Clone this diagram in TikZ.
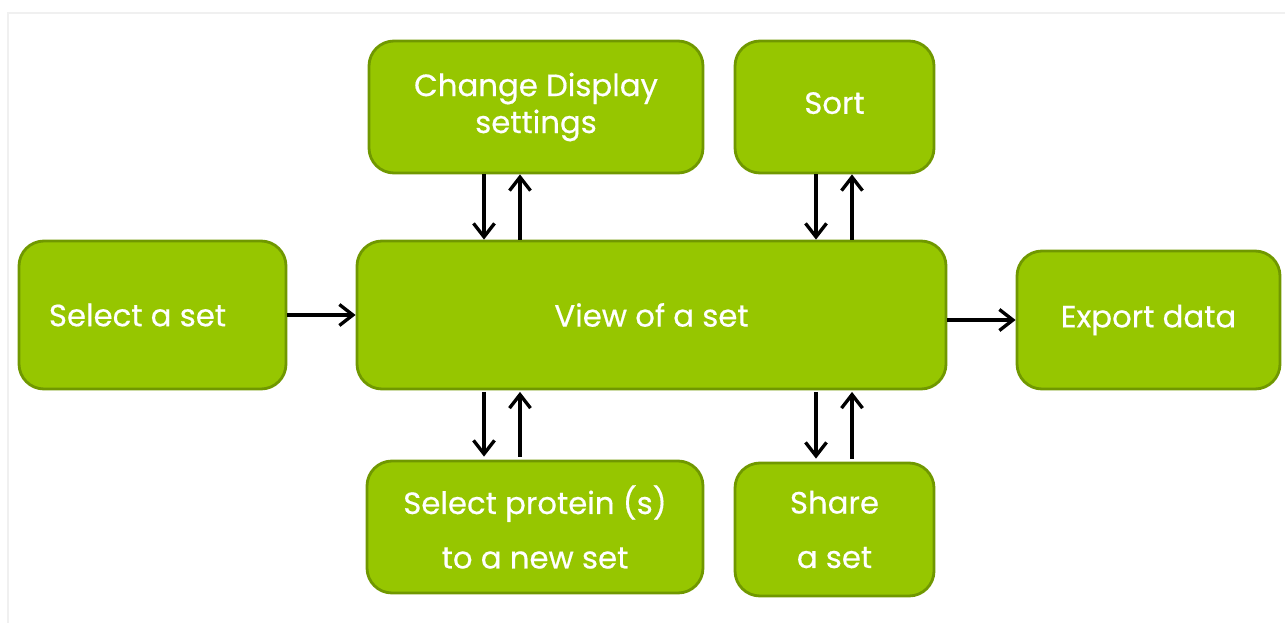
\documentclass[tikz,border=0pt]{standalone}
\usepackage{fontspec}
\setmainfont{Poppins}[FakeBold=0.5]
\usetikzlibrary{arrows.meta}
\definecolor{boxgreen}{RGB}{150,198,0}
\definecolor{boxedge}{RGB}{112,152,0}

\begin{document}
\begin{tikzpicture}
  
  \tikzset{main node/.style={rectangle, draw=boxedge, fill=boxgreen, line width=1.6pt,
  		text=white, align=center, rounded corners=0.5cm,
  		font=\fontsize{17.5}{21}\selectfont}, }
  \tikzset{linea/.style={-{Straight Barb[length=0.27cm, width=0.42cm]}, line width=1.9pt}, }
  \useasboundingbox (0,0) rectangle (25.7,12.46);
  \draw[black!6, line width=1pt] (0.16,0) |- (25.7,12.2);
    \node[main node, minimum width=5.34cm, minimum height=2.96cm] (1) at (3.05,6.16) {Select a set\hspace*{0.6cm}};
    \node[main node, minimum width=11.78cm, minimum height=2.96cm] (2) at (13.03,6.16) {View of a set};
    \node[main node, minimum width=6.68cm, minimum height=2.64cm] (3) at (10.72,10.32) {Change Display\\settings};
    \node[main node, minimum width=3.98cm, minimum height=2.64cm] (4) at (16.69,10.32) {\raisebox{0.16cm}{Sort}};
    \node[main node, minimum width=6.72cm, minimum height=2.64cm] (5) at (10.70,1.92) {Select protein (s)\\[10pt]to a new set};
    \node[main node, minimum width=3.98cm, minimum height=2.66cm] (6) at (16.69,1.87) {Share\\[10pt]a set};
    \node[main node, minimum width=5.26cm, minimum height=2.76cm] (7) at (22.97,6.06) {Export data};

\path[linea] (1) edge (2);
\path[linea] (2.east |- 7) edge (7);
\foreach \a/\s in {3/-1.04cm,4/-0.37cm}
  \draw[linea] ([xshift=\s]\a.south) -- ([xshift=\s]\a.south |- 2.north);
\foreach \a/\s in {3/-0.32cm,4/0.35cm}
  \draw[linea] ([xshift=\s]\a.south |- 2.north) -- ([xshift=\s]\a.south);
\foreach \a/\s in {5/-1.02cm,6/-0.37cm}
  \draw[linea, shorten <=0.03cm, shorten >=0.06cm] ([xshift=\s]\a.north |- 2.south) -- ([xshift=\s]\a.north);
\foreach \a/\s in {5/-0.3cm,6/0.35cm}
  \draw[linea, shorten <=0.06cm, shorten >=0.03cm] ([xshift=\s]\a.north) -- ([xshift=\s]\a.north |- 2.south);
%%  
\end{tikzpicture}
\end{document}
